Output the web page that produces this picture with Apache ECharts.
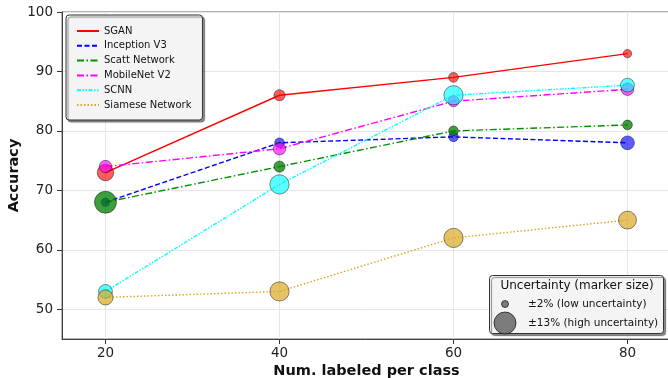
<!DOCTYPE html>
<html>
<head>
<meta charset="utf-8">
<script src="https://cdn.jsdelivr.net/npm/echarts@6/dist/echarts.min.js"></script>
<style>
html,body{margin:0;padding:0;background:#fff;}
#chart{width:668px;height:378px;}
</style>
</head>
<body>
<div id="chart"></div>
<script>
// ---- data ----
const categories = [20, 40, 60, 80];
const seriesNames = ['SGAN', 'Inception V3', 'Scatt Network', 'MobileNet V2', 'SCNN', 'Siamese Network'];
const sgan = [73, 86, 89, 93];
const inception = [68, 78, 79, 78];
const scatt = [68, 74, 80, 81];
const mobilenet = [74, 77, 85, 87];
const scnn = [53, 71, 86, 87.7];
const siamese = [52, 53, 62, 65];
// uncertainty (± %) per point -> marker size
const uncSgan = [9, 5, 4, 3];
const uncInception = [3, 4, 4, 7];
const uncScatt = [13, 5, 4, 4];
const uncMobilenet = [6, 6, 5, 6];
const uncScnn = [7, 11, 11, 7];
const uncSiamese = [8, 11, 11, 10];
const xTicks = [20, 40, 60, 80];
const yTicks = [50, 60, 70, 80, 90, 100];
const uncLegend = [2, 13];
const uncLegendLabels = ['±2% (low uncertainty)', '±13% (high uncertainty)'];

// ---- styles ----
const FONT = 'DejaVu Sans';
const colors = ['#ff0000', '#0000ff', '#009000', '#ff00ff', '#00ffff', '#daa520'];
const markerColors = ['rgba(255,0,0,0.8)', 'rgba(0,0,255,0.8)', 'rgba(0,128,0,0.95)', 'rgba(255,0,255,0.8)', 'rgba(0,255,255,0.8)', 'rgba(218,165,32,0.85)'];
const dashes = ['solid', [5, 2.5], [7, 2.5, 1.5, 2.5], [7, 2.5, 1.5, 2.5], [4, 1.5, 1.5, 1.5, 1.5, 1.5], [1.5, 2]];
const values = [sgan, inception, scatt, mobilenet, scnn, siamese];
const uncs = [uncSgan, uncInception, uncScatt, uncMobilenet, uncScnn, uncSiamese];

function sizeFor(u) { return 7 + (u - 2) * 15 / 11; }

const series = [];
values.forEach((vals, i) => {
  series.push({
    name: seriesNames[i],
    type: 'line',
    symbol: 'none',
    z: 2,
    data: categories.map((c, j) => [c, vals[j]]),
    color: colors[i],
    lineStyle: { color: colors[i], width: 1.4, type: dashes[i] },
    emphasis: { disabled: true },
    animation: false
  });
});
values.forEach((vals, i) => {
  series.push({
    name: seriesNames[i] + ' markers',
    type: 'scatter',
    z: 3,
    data: categories.map((c, j) => [c, vals[j], uncs[i][j]]),
    symbolSize: v => sizeFor(v[2]),
    itemStyle: { color: markerColors[i], borderColor: 'rgba(0,0,0,0.7)', borderWidth: 0.8 },
    emphasis: { disabled: true },
    animation: false
  });
});

const chart = echarts.init(document.getElementById('chart'), null, { renderer: 'canvas' });

// uncertainty legend graphics
const boxX = 489, boxY = 275, boxW = 174, boxH = 58;
const graphic = [
  { type: 'rect', left: boxX, top: boxY, z: 100,
    shape: { width: boxW, height: boxH, r: 3 },
    style: { fill: '#f4f4f4', stroke: '#333', lineWidth: 1, shadowColor: 'rgba(0,0,0,0.45)', shadowOffsetX: 2, shadowOffsetY: 2, shadowBlur: 1 } },
  { type: 'text', z: 101, x: boxX + boxW / 2 + 1, y: boxY + 11,
    style: { text: 'Uncertainty (marker size)', font: '12px "DejaVu Sans"', fill: '#111', align: 'center', verticalAlign: 'middle' } }
];
uncLegend.forEach((u, k) => {
  const cy = boxY + 29 + k * 19;
  const r = sizeFor(u) / 2;
  graphic.push({ type: 'circle', z: 101, shape: { cx: boxX + 16, cy: cy, r: r },
    style: { fill: 'rgba(110,110,110,0.9)', stroke: 'rgba(0,0,0,0.8)', lineWidth: 0.8 } });
  graphic.push({ type: 'text', z: 101, x: boxX + 39, y: cy,
    style: { text: uncLegendLabels[k], font: '10.5px "DejaVu Sans"', fill: '#111', align: 'left', verticalAlign: 'middle' } });
});

chart.setOption({
  animation: false,
  backgroundColor: '#ffffff',
  grid: { left: 62, top: 12, right: -3, bottom: 39, outerBoundsMode: 'none', containLabel: false, show: true, borderColor: '#666', borderWidth: 1, backgroundColor: 'transparent' },
  legend: {
    data: seriesNames,
    left: 66, top: 15, orient: 'vertical',
    padding: [11, 11, 10, 10],
    itemWidth: 22, itemHeight: 12, itemGap: 4.8,
    itemStyle: { opacity: 0 },
    backgroundColor: '#f4f4f4', borderColor: '#333', borderWidth: 1, borderRadius: 3,
    shadowColor: 'rgba(0,0,0,0.45)', shadowOffsetX: 2, shadowOffsetY: 2, shadowBlur: 1,
    textStyle: { fontFamily: FONT, fontSize: 10, color: '#111' },
    selectedMode: false,
    z: 100
  },
  xAxis: {
    type: 'value', min: 15, max: 85,
    name: 'Num. labeled per class', nameLocation: 'middle', nameGap: 25, nameMoveOverlap: false,
    nameTextStyle: { fontFamily: FONT, fontSize: 14.5, fontWeight: 'bold', color: '#111' },
    axisLine: { show: true, onZero: false, lineStyle: { color: '#444', width: 1 } },
    axisTick: { show: true, length: 5, lineStyle: { color: '#333' }, customValues: xTicks },
    axisLabel: { fontFamily: FONT, fontSize: 13.5, color: '#222', margin: 7, customValues: xTicks },
    splitLine: { show: true, lineStyle: { color: '#e6e6e6', width: 1 } }
  },
  yAxis: {
    type: 'value', min: 45, max: 100,
    name: 'Accuracy', nameLocation: 'middle', nameGap: 40, nameMoveOverlap: false,
    nameTextStyle: { fontFamily: FONT, fontSize: 14.5, fontWeight: 'bold', color: '#111' },
    axisLine: { show: true, onZero: false, lineStyle: { color: '#444', width: 1 } },
    axisTick: { show: true, length: 5, lineStyle: { color: '#333' }, customValues: yTicks },
    axisLabel: { fontFamily: FONT, fontSize: 13.5, color: '#222', margin: 9, customValues: yTicks },
    splitLine: { show: true, lineStyle: { color: '#e6e6e6', width: 1 } }
  },
  series: series,
  graphic: graphic
});
</script>
</body>
</html>
